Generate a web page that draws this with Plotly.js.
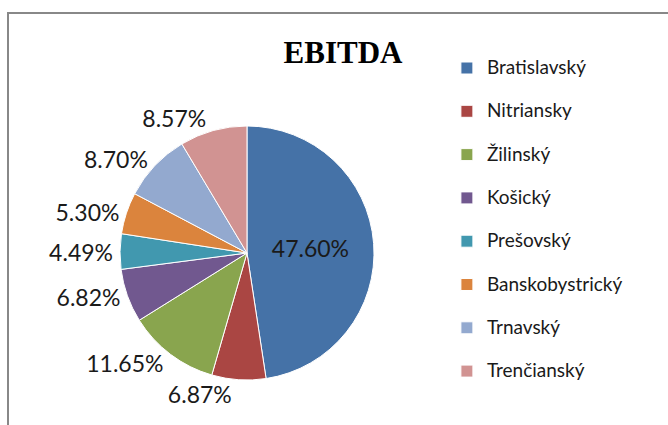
<!DOCTYPE html>
<html>
<head>
<meta charset="utf-8">
<script src="https://cdn.plot.ly/plotly-3.0.1.min.js"></script>
<style>
  html, body { margin: 0; padding: 0; background: #ffffff; }
  #chart { width: 668px; height: 425px; }
</style>
</head>
<body>
<div id="chart"></div>
<script>
// ---- data ----
var regions = ["Bratislavský", "Nitriansky", "Žilinský", "Košický", "Prešovský", "Banskobystrický", "Trnavský", "Trenčianský"];
var sharePct = [47.60, 6.87, 11.65, 6.82, 4.49, 5.30, 8.70, 8.57];
var sliceColors = ["#4572A7", "#AA4643", "#89A54E", "#71588F", "#4198AF", "#DB843D", "#93A9CF", "#D19392"];
var chartTitle = "EBITDA";

// inside label only for the big slice
var textPos = sharePct.map(function (v) { return v > 20 ? "inside" : "outside"; });
// legend entries: name plus a blank line to widen item spacing
var legendLabels = regions.map(function (r) {
  return '<span style="font-size:19px">' + r + '</span><br>&nbsp;';
});

var labelFont = { family: "Lato, 'Open Sans', sans-serif", size: 23, color: "#1a1a1a" };

var trace = {
  type: "pie",
  labels: legendLabels,
  values: sharePct,
  sort: false,
  direction: "clockwise",
  rotation: 0,
  marker: { colors: sliceColors, line: { color: "#ffffff", width: 1 } },
  texttemplate: "%{value:.2f}%",
  textposition: textPos,
  insidetextorientation: "horizontal",
  textfont: labelFont,
  insidetextfont: labelFont,
  outsidetextfont: labelFont,
  hoverinfo: "skip",
  domain: { x: [0.17814, 0.56138], y: [0.10588, 0.70353] },
  automargin: false,
  showlegend: true
};

var layout = {
  width: 668,
  height: 425,
  margin: { l: 0, r: 0, t: 0, b: 0 },
  paper_bgcolor: "#ffffff",
  plot_bgcolor: "#ffffff",
  title: {
    text: "<b>" + chartTitle + "</b>",
    font: { family: "'Liberation Serif', 'Times New Roman', serif", size: 31, color: "#000000" },
    x: 0.5135, xanchor: "center",
    y: 0.878, yanchor: "middle",
    xref: "paper", yref: "container"
  },
  showlegend: true,
  legend: {
    x: 0.669, xanchor: "left",
    y: 0.879, yanchor: "top",
    valign: "top",
    font: { family: "Lato, 'Open Sans', sans-serif", size: 15.5, color: "#1a1a1a" },
    bgcolor: "rgba(0,0,0,0)",
    borderwidth: 0
  },
  shapes: [{
    type: "rect", xref: "paper", yref: "paper",
    x0: 8 / 668, x1: 1.05, y0: -0.05, y1: 1 - 13 / 425,
    line: { color: "#888888", width: 2 },
    fillcolor: "rgba(0,0,0,0)",
    layer: "below"
  }]
};

Plotly.newPlot("chart", [trace], layout, { displayModeBar: false, staticPlot: true });
</script>
</body>
</html>
